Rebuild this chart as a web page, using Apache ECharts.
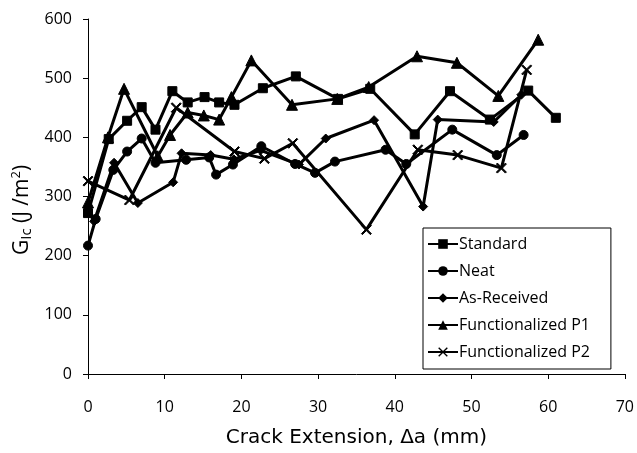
<!DOCTYPE html>
<html>
<head>
<meta charset="utf-8">
<script src="https://cdn.jsdelivr.net/npm/echarts@6/dist/echarts.min.js"></script>
<style>
  html, body { margin: 0; padding: 0; background: #fff; }
  #main { width: 637px; height: 453px; }
</style>
</head>
<body>
<div id="main"></div>
<script>
// crack extension (mm), G_Ic (J/m^2)
var standard = [[0, 272], [2.7, 397], [5.1, 428], [7, 451], [8.8, 413], [11, 478], [13, 459], [15.2, 468], [17.1, 459], [19.1, 455], [22.8, 483], [27.1, 503], [32.6, 465], [36.8, 482], [42.6, 405], [47.2, 478], [52.4, 430], [57.4, 479], [61, 433]];
var neat = [[0, 217], [1, 262], [3.3, 345], [5.1, 376], [7, 398], [8.8, 357], [12.8, 362], [15.8, 366], [16.7, 337], [18.9, 354], [22.6, 385], [27, 355], [29.6, 340], [32.2, 359], [38.8, 379], [41.5, 355], [47.5, 413], [53.3, 370], [56.8, 404]];
var asReceived = [[0, 282], [0.8, 258], [3.4, 357], [6.5, 289], [11.1, 324], [12.2, 373], [16, 370], [19, 363], [22.5, 378], [27.5, 354], [31, 398], [37.3, 429], [43.7, 283], [45.6, 430], [52.9, 426], [56.5, 472]];
var funcP1 = [[0, 290], [2.6, 400], [4.7, 482], [9.1, 368], [10.7, 404], [13, 442], [15.1, 437], [17.1, 430], [18.7, 468], [21.3, 530], [26.6, 455], [32.5, 465], [36.6, 485], [42.9, 537], [48.1, 526], [53.5, 470], [58.7, 565]];
var funcP2 = [[0, 326], [5.4, 294], [11.5, 450], [19.1, 376], [23, 364], [26.7, 390], [36.3, 244], [43, 379], [48.2, 370], [53.9, 348], [57.2, 514]];

var names = ['Standard', 'Neat', 'As-Received', 'Functionalized P1', 'Functionalized P2'];
var crossPath = 'path://M1,0 L5,4 L9,0 L10,1 L6,5 L10,9 L9,10 L5,6 L1,10 L0,9 L4,5 L0,1 Z';
var symbols = ['rect', 'circle', 'diamond', 'triangle', crossPath];
var sizes = [9, 9, 9, 11, 10];

var font = 'Open Sans';
var allData = [standard, neat, asReceived, funcP1, funcP2];

var series = allData.map(function (d, i) {
    return {
        name: names[i],
        type: 'line',
        data: d,
        symbol: symbols[i],
        symbolSize: sizes[i],
        showAllSymbol: true,
        animation: false,
        lineStyle: { color: '#000', width: 3 },
        itemStyle: { color: '#000', borderColor: '#000' }
    };
});

var myChart = echarts.init(document.getElementById('main'));
myChart.setOption({
    backgroundColor: '#fff',
    animation: false,
    grid: { left: 88, right: 9, top: 19, bottom: 74 },
    // y axis title, placed by hand so it sits where the original has it
    graphic: [{
        type: 'text',
        x: 22,
        y: 210,
        rotation: Math.PI / 2,
        style: {
            text: '{g|G}{s|Ic}{g| (J /m}{p|2}{g|)}',
            align: 'center',
            verticalAlign: 'middle',
            fill: '#000',
            rich: {
                g: { fontFamily: font, fontSize: 21, lineHeight: 25, fill: '#000' },
                s: { fontFamily: font, fontSize: 15, lineHeight: 15, verticalAlign: 'bottom', fill: '#000' },
                p: { fontFamily: font, fontSize: 13, lineHeight: 13, verticalAlign: 'top', fill: '#000' }
            }
        }
    }],
    legend: {
        orient: 'vertical',
        left: 423,
        top: 228,
        padding: [8, 21, 9, 4],
        itemWidth: 30,
        itemHeight: 12,
        itemGap: 11,
        borderColor: '#000',
        borderWidth: 1,
        borderRadius: 0,
        textStyle: { fontFamily: font, fontSize: 16, color: '#000', padding: [0, 0, 0, -4] },
        data: names
    },
    xAxis: {
        type: 'value',
        min: 0, max: 70, interval: 10,
        name: 'Crack Extension, Δa (mm)',
        nameLocation: 'middle',
        nameGap: 54,
        nameTextStyle: { fontFamily: 'DejaVu Sans', fontSize: 20, color: '#000' },
        axisLine: { lineStyle: { color: '#000', width: 1 } },
        axisTick: { inside: false, length: 5, lineStyle: { color: '#000' } },
        axisLabel: { margin: 25, fontFamily: font, fontSize: 16, color: '#000' },
        splitLine: { show: false }
    },
    yAxis: {
        type: 'value',
        min: 0, max: 600, interval: 100,
        axisLine: { show: true, lineStyle: { color: '#000', width: 1 } },
        axisTick: { show: true, inside: false, length: 5, lineStyle: { color: '#000' } },
        axisLabel: { margin: 16, fontFamily: font, fontSize: 16, color: '#000' },
        splitLine: { show: false }
    },
    series: series
});
</script>
</body>
</html>
